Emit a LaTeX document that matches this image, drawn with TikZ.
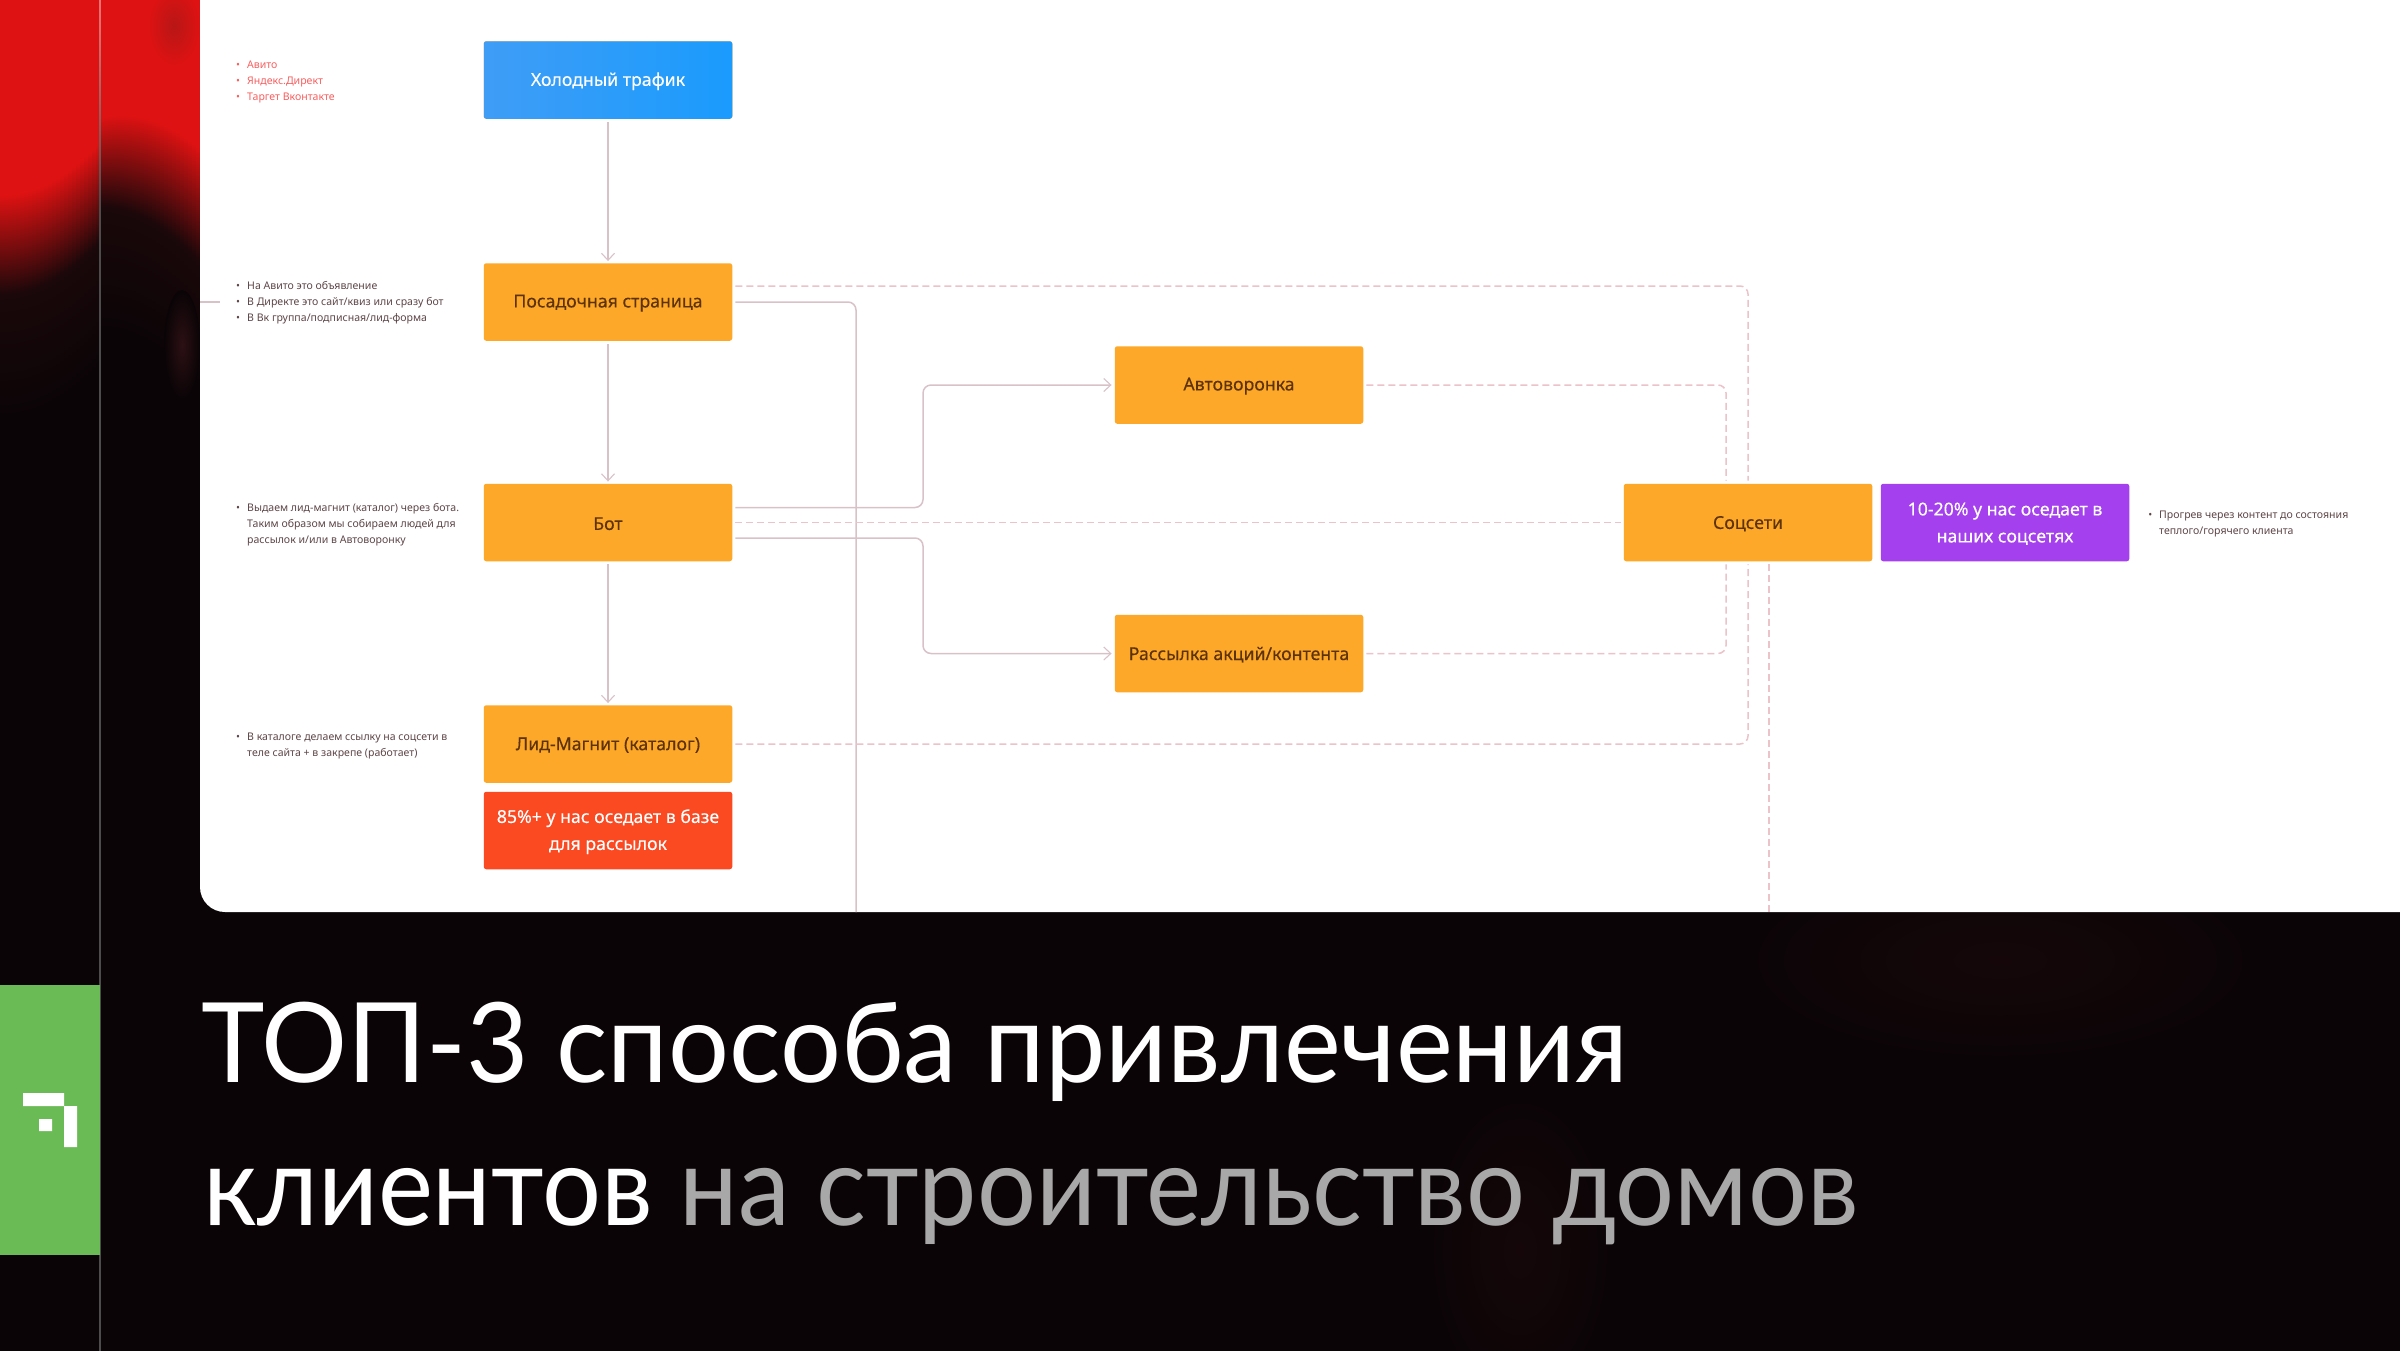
\documentclass[tikz,border=0pt]{standalone}
\usepackage{fontspec}
\usepackage{graphicx}
\setmainfont{Noto Sans}[FakeBold=0.25]
\newfontfamily\titlefont{Lato}
\newfontfamily\notefont{Noto Sans}
\usetikzlibrary{arrows.meta}
\definecolor{bgdark}{HTML}{0A0406}
\definecolor{redtop}{HTML}{DE1212}
\definecolor{reddim}{HTML}{1A080A}
\definecolor{glowdim}{HTML}{150709}
\definecolor{glowside}{HTML}{2C1014}
\definecolor{patchred}{HTML}{B81616}
\definecolor{boxorange}{HTML}{FEA829}
\definecolor{boxtext}{HTML}{5C3208}
\definecolor{boxblue}{HTML}{1A9BFD}
\definecolor{boxblueleft}{HTML}{3F9DF6}
\definecolor{boxred}{HTML}{FB4A22}
\definecolor{boxpurple}{HTML}{A540EE}
\definecolor{solidline}{HTML}{D8C2C8}
\definecolor{dashline}{HTML}{EBC3C9}
\definecolor{notegray}{HTML}{5E4548}
\definecolor{notered}{HTML}{F85F5F}
\definecolor{greenside}{HTML}{6ABB55}
\definecolor{titlegray}{HTML}{A8A8A8}
\tikzset{
  flowbox/.style={rectangle,rounded corners=2.5pt,minimum width=248.5pt,minimum height=77.5pt,inner sep=0pt,align=center,font=\fontsize{17.7}{27}\selectfont\bfseries,text=boxtext,fill=boxorange},
  bluebox/.style={flowbox,text=white,left color=boxblueleft,right color=boxblue},
  redbox/.style={flowbox,text=white,fill=boxred},
  purplebox/.style={flowbox,text=white,fill=boxpurple},
  notetext/.style={anchor=west,inner sep=0pt,align=left,text=notegray,font=\notefont\fontsize{10.55}{16}\selectfont},
  solidlink/.style={draw=solidline,line width=1.5pt,rounded corners=8pt},
  dashlink/.style={draw=dashline,line width=1.5pt,rounded corners=8pt,dash pattern=on 7pt off 4pt},
  arrowlink/.style={-{Straight Barb[length=7pt,width=13pt,line width=1.1pt]}},
  titleline/.style={anchor=base west,inner sep=0pt,text=white,font=\titlefont\fontsize{111}{111}\selectfont}
}
\newcommand{\nb}{\leavevmode\llap{•\hspace{7pt}}}
\newcommand{\bl}[1]{\raisebox{-1.2pt}[\height][\depth]{\parbox{245pt}{\centering #1}}}
\begin{document}
\begin{tikzpicture}[x=1pt,y=-1pt]
\useasboundingbox (0,0) rectangle (2400,1350);
% background
\fill[bgdark] (-5,-5) rectangle (2405,1355);
\foreach \xx in {0,4,...,96}{
  \pgfmathsetmacro{\a}{195-55*(\xx/100)^2}
  \pgfmathsetmacro{\b}{\a+100}
  \fill[redtop] (\xx,-5) rectangle (\xx+4.6,\a+.5);
  \shade[top color=redtop,bottom color=reddim] (\xx,\a) rectangle (\xx+4.3,\b);
  \shade[top color=reddim,bottom color=bgdark] (\xx,\b) rectangle (\xx+4.3,\b+130);
}
\foreach \xx in {100,104,...,196}{
  \pgfmathsetmacro{\a}{115+35*((\xx-120)/80)^2}
  \pgfmathsetmacro{\b}{\a+90+25*(\xx-100)/100}
  \fill[redtop] (\xx,-5) rectangle (\xx+4.6,\a+.5);
  \shade[top color=redtop,bottom color=reddim] (\xx,\a) rectangle (\xx+4.3,\b);
  \shade[top color=reddim,bottom color=bgdark] (\xx,\b) rectangle (\xx+4.3,\b+130);
}
\shade[inner color=patchred,outer color=redtop] (174,26) ellipse (26 and 40);
\shade[inner color=glowside,outer color=bgdark] (182,345) ellipse (18 and 55);
\shade[inner color=glowdim,outer color=bgdark] (2000,960) ellipse (280 and 110);
\shade[inner color=glowdim,outer color=bgdark] (1520,1250) ellipse (100 and 170);
% divider
\draw[line width=1.6pt,draw=gray!60!black] (100,200) -- (100,1355);
\shade[top color=red!55!white,bottom color=gray!60!black] (99.2,-5) rectangle (100.8,200);
% side tab
\fill[greenside] (0,985) rectangle (100,1255);
\fill[white] (23,1093) rectangle (64,1106) (64,1106) rectangle (77,1147) (39,1119) rectangle (52,1131);
% panel
\fill[white] (200,-5) -- (200,887) arc[start angle=180,end angle=90,radius=25] -- (2405,912) -- (2405,-5) -- cycle;
% boxes
\node[bluebox] (cold) at (608,80) {\bl{Холодный трафик}};
\node[flowbox] (post) at (608,302) {\bl{Посадочная страница}};
\node[flowbox] (bot) at (608,522.5) {\bl{Бот}};
\node[flowbox] (lid) at (608,744) {\bl{Лид-Магнит (каталог)}};
\node[redbox] (base) at (608,830.5) {\bl{85\%+ у нас оседает в базе\\для рассылок}};
\node[flowbox] (auto) at (1239,385) {\bl{Автоворонка}};
\node[flowbox] (mail) at (1239,653.5) {\bl{Рассылка акций/контента}};
\node[flowbox] (soc) at (1748,522.5) {\bl{Соцсети}};
\node[purplebox] (pct) at (2005,522.5) {\bl{10-20\% у нас оседает в\\наших соцсетях}};
% notes
\node[notetext,text=notered] (n1) at (247,82) {\nb Авито\\\nb Яндекс.Директ\\\nb Таргет Вконтакте};
\node[notetext] (n2) at (247,303) {\nb На Авито это объявление\\\nb В Директе это сайт/квиз или сразу бот\\\nb В Вк группа/подписная/лид-форма};
\node[notetext] (n3) at (247,525) {\nb Выдаем лид-магнит (каталог) через бота.\\Таким образом мы собираем людей для\\рассылок и/или в Автоворонку};
\node[notetext] (n4) at (247,746) {\nb В каталоге делаем ссылку на соцсети в\\теле сайта + в закрепе (работает)};
\node[notetext] (n5) at (2159,524) {\nb Прогрев через контент до состояния\\теплого/горячего клиента};
% free ends
\coordinate (stubA) at (200,302);
\coordinate (stubB) at (220,302);
\coordinate (solidEnd) at (856,912);
\coordinate (dashEnd) at (1769,912);
% connectors
\draw[solidlink,arrowlink] ([yshift=-3pt]cold.south) -- ([yshift=2pt]post.north);
\draw[solidlink,arrowlink] ([yshift=-3pt]post.south) -- ([yshift=2pt]bot.north);
\draw[solidlink,arrowlink] ([yshift=-3pt]bot.south) -- ([yshift=2pt]lid.north);
\draw[solidlink] (stubA) -- (stubB);
\draw[solidlink] ([xshift=3pt]post.east) -| (solidEnd);
\draw[solidlink,arrowlink] ([xshift=3pt,yshift=15pt]bot.east) -| (923,450) |- ([xshift=-3pt]auto.west);
\draw[solidlink,arrowlink] ([xshift=3pt,yshift=-15.5pt]bot.east) -| (923,600) |- ([xshift=-3pt]mail.west);
\draw[dashlink] ([xshift=3pt,yshift=16pt]post.east) -| ([yshift=3pt]soc.north);
\draw[dashlink] ([xshift=3pt]lid.east) -| ([yshift=-3pt]soc.south);
\draw[dashlink] ([xshift=3pt]bot.east) -- ([xshift=-3pt]soc.west);
\draw[dashlink] ([xshift=3pt]auto.east) -| ([xshift=-22pt,yshift=3pt]soc.north);
\draw[dashlink] ([xshift=3pt]mail.east) -| ([xshift=-22pt,yshift=-3pt]soc.south);
\draw[dashlink] ([xshift=21pt,yshift=-3pt]soc.south) -- (dashEnd);
% title
\node[titleline] (t1) at (201,1082.5) {\scalebox{0.969}[1]{ТОП-3 способа привлечения}};
\node[titleline] (t2) at (203,1225) {\scalebox{0.938}[1]{клиентов \textcolor{titlegray}{на строительство домов}}};
\end{tikzpicture}
\end{document}
